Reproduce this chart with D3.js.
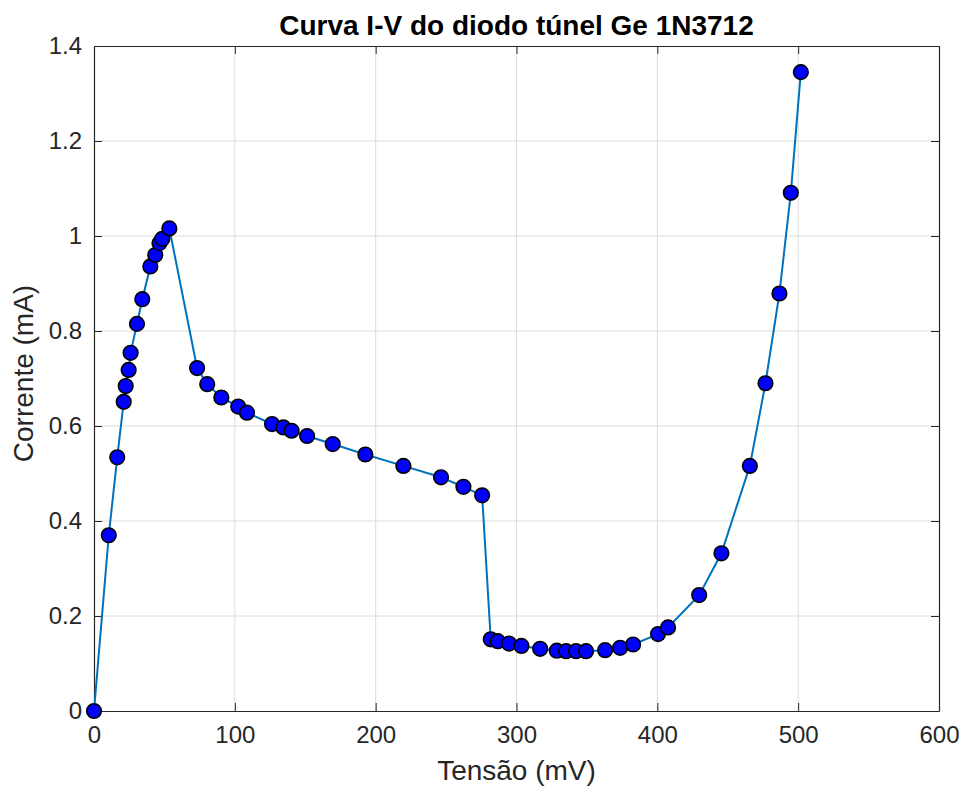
<!DOCTYPE html>
<html>
<head>
<meta charset="utf-8">
<script src="https://cdn.jsdelivr.net/npm/d3@7"></script>
<style>
  body { margin: 0; background: #fff; }
  text { font-family: "Liberation Sans", Arial, Helvetica, sans-serif; }
</style>
</head>
<body>
<div class="chart"></div>
<script>
// tensão (mV) e corrente (mA)
var tensao = [0, 10.5, 16.5, 21.1, 22.5, 24.6, 26, 30.5, 34.3, 40, 43.5, 46.5, 48.5, 53.5,
    73.2, 80.4, 90.4, 102.4, 108.6, 126.4, 134.5, 140.3, 151.3, 169.5, 192.7, 219.7, 246.4, 262.3, 275.6,
    281.7, 286.7, 294.7, 303.5, 316.8, 328.6, 335.2, 342.3, 349.4, 362.9, 373.6, 382.8, 400.5, 407.6,
    429.7, 445.5, 465.7, 476.8, 486.7, 494.8, 501.9];
var corrente = [0, 0.37, 0.534, 0.651, 0.684, 0.718, 0.754, 0.815, 0.867, 0.936, 0.96, 0.985, 0.994, 1.016,
    0.722, 0.688, 0.66, 0.641, 0.628, 0.604, 0.597, 0.59, 0.579, 0.562, 0.54, 0.516, 0.492, 0.472, 0.454,
    0.151, 0.147, 0.142, 0.137, 0.131, 0.127, 0.126, 0.126, 0.126, 0.128, 0.133, 0.14, 0.162, 0.176,
    0.244, 0.332, 0.516, 0.69, 0.879, 1.091, 1.345];
var xTicks = [0, 100, 200, 300, 400, 500, 600];
var yTicks = [0, 0.2, 0.4, 0.6, 0.8, 1, 1.2, 1.4];

var svgWidth = 963;
var svgHeight = 795;
var margin = { top: 46, right: 24, bottom: 84, left: 94 };
var width = svgWidth - margin.left - margin.right;
var height = svgHeight - margin.top - margin.bottom;

var data = tensao.map(function (v, i) { return { x: v, y: corrente[i] }; });

var svg = d3.select(".chart")
    .append("svg")
    .attr("width", svgWidth)
    .attr("height", svgHeight);

var chartGroup = svg.append("g")
    .attr("transform", `translate(${margin.left}, ${margin.top})`);

var xScale = d3.scaleLinear().domain([0, 600]).range([0, width]);
var yScale = d3.scaleLinear().domain([0, 1.4]).range([height, 0]);

// grid
chartGroup.append("g").selectAll("line")
    .data(xTicks.slice(1, -1))
    .enter().append("line")
    .attr("x1", d => xScale(d)).attr("x2", d => xScale(d))
    .attr("y1", 0).attr("y2", height)
    .attr("stroke", "#dcdcdc").attr("stroke-width", 1);
chartGroup.append("g").selectAll("line")
    .data(yTicks.slice(1, -1))
    .enter().append("line")
    .attr("y1", d => yScale(d)).attr("y2", d => yScale(d))
    .attr("x1", 0).attr("x2", width)
    .attr("stroke", "#dcdcdc").attr("stroke-width", 1);

// axes (ticks point inward, like matlab)
var bottomAxis = d3.axisBottom(xScale).tickValues(xTicks).tickSizeInner(-8).tickSizeOuter(0).tickPadding(15);
var leftAxis = d3.axisLeft(yScale).tickValues(yTicks).tickSizeInner(-8).tickSizeOuter(0).tickPadding(12)
    .tickFormat(d3.format("~g"));
var topAxis = d3.axisTop(xScale).tickValues(xTicks).tickSizeInner(-8).tickSizeOuter(0).tickFormat("");
var rightAxis = d3.axisRight(yScale).tickValues(yTicks).tickSizeInner(-8).tickSizeOuter(0).tickFormat("");

function styleAxis(g) {
    g.select(".domain").attr("stroke", "#262626").attr("stroke-width", 1.2);
    g.selectAll(".tick line").attr("stroke", "#262626");
    g.selectAll(".tick text").attr("fill", "#262626").style("font-size", "24px");
}

chartGroup.append("g").attr("transform", `translate(0, ${height})`).call(bottomAxis).call(styleAxis);
chartGroup.append("g").call(leftAxis).call(styleAxis);
chartGroup.append("g").call(topAxis).call(styleAxis);
chartGroup.append("g").attr("transform", `translate(${width}, 0)`).call(rightAxis).call(styleAxis);

// curve
var line = d3.line().x(d => xScale(d.x)).y(d => yScale(d.y));
chartGroup.append("path")
    .datum(data)
    .attr("fill", "none")
    .attr("stroke", "#0072BD")
    .attr("stroke-width", 2)
    .attr("d", line);

chartGroup.selectAll("circle")
    .data(data)
    .enter()
    .append("circle")
    .attr("cx", d => xScale(d.x))
    .attr("cy", d => yScale(d.y))
    .attr("r", 7.3)
    .attr("fill", "#0000ff")
    .attr("stroke", "#000")
    .attr("stroke-width", 1.6);

// labels
svg.append("text")
    .attr("x", margin.left + width / 2)
    .attr("y", 35)
    .attr("text-anchor", "middle")
    .attr("fill", "#000")
    .style("font-size", "28px")
    .style("font-weight", "bold")
    .text("Curva I-V do diodo túnel Ge 1N3712");

svg.append("text")
    .attr("x", margin.left + width / 2)
    .attr("y", 780)
    .attr("text-anchor", "middle")
    .attr("fill", "#262626")
    .style("font-size", "28px")
    .text("Tensão (mV)");

svg.append("text")
    .attr("transform", "rotate(-90)")
    .attr("x", -(margin.top + height / 2) + 5)
    .attr("y", 33)
    .attr("text-anchor", "middle")
    .attr("fill", "#262626")
    .style("font-size", "28px")
    .text("Corrente (mA)");
</script>
</body>
</html>
